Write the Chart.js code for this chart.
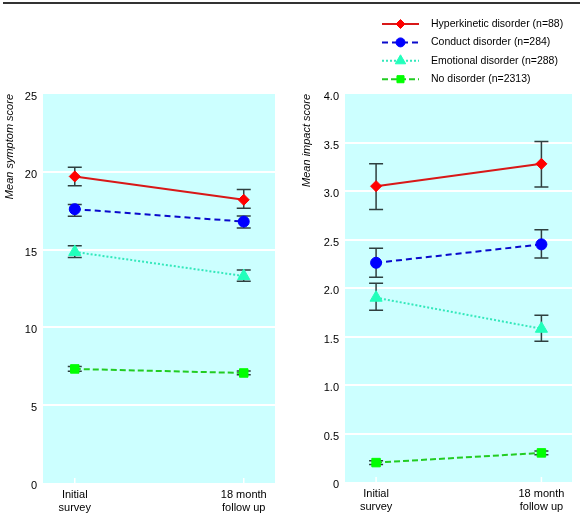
<!DOCTYPE html>
<html>
<head>
<meta charset="utf-8">
<script src="https://cdn.jsdelivr.net/npm/chart.js@4.4.0/dist/chart.umd.min.js"></script>
<style>
    body { margin: 0; background: #fff; width: 580px; height: 518px; overflow: hidden; position: relative; }
    #rule { position: absolute; left: 3px; top: 2px; width: 577px; height: 2px; background: #333; }
    .panel { position: absolute; top: 0; width: 290px; height: 518px; }
</style>
</head>
<body>
<div id="rule"></div>
<div class="panel" style="left:0"><canvas id="symptom_chart" width="290" height="518"></canvas></div>
<div class="panel" style="left:290px"><canvas id="impact_chart" width="290" height="518"></canvas></div>
<script>
const timeLabels = [['Initial', 'survey'], ['18 month', 'follow up']];
const groupNames = ['Hyperkinetic disorder (n=88)', 'Conduct disorder (n=284)', 'Emotional disorder (n=288)', 'No disorder (n=2313)'];

// mean symptom score: initial survey, 18 month follow up
const symptomHyperkinetic = [19.7, 18.2];
const symptomConduct = [17.6, 16.8];
const symptomEmotional = [14.85, 13.3];
const symptomNone = [7.33, 7.07];
// error bars [low, high] at each time point
const symptomHyperkineticCI = [[19.1, 20.3], [17.65, 18.87]];
const symptomConductCI = [[17.14, 17.9], [16.39, 17.16]];
const symptomEmotionalCI = [[14.5, 15.25], [12.96, 13.69]];
const symptomNoneCI = [[7.18, 7.48], [6.95, 7.19]];

// mean impact score
const impactHyperkinetic = [3.05, 3.28];
const impactConduct = [2.26, 2.45];
const impactEmotional = [1.90, 1.58];
const impactNone = [0.20, 0.30];
const impactHyperkineticCI = [[2.81, 3.28], [3.04, 3.51]];
const impactConductCI = [[2.11, 2.41], [2.31, 2.60]];
const impactEmotionalCI = [[1.77, 2.05], [1.45, 1.72]];
const impactNoneCI = [[0.18, 0.22], [0.28, 0.32]];

const symptomTickLabels = ['0', '5', '10', '15', '20', '25'];
const impactTickLabels = ['0', '0.5', '1.0', '1.5', '2.0', '2.5', '3.0', '3.5', '4.0'];

const FONT_FAMILY = "'Liberation Sans Narrow', 'Liberation Sans', Arial, sans-serif";
Chart.defaults.font.family = FONT_FAMILY;
Chart.defaults.font.size = 11;
Chart.defaults.color = '#000';

const SERIES_STYLE = [
    { line: '#d81818', marker: '#ff0000', pointStyle: 'rectRot', radius: 5.5, width: 2, dash: [] },
    { line: '#0a0acc', marker: '#0000ff', pointStyle: 'circle', radius: 5.5, width: 2, dash: [6, 4] },
    { line: '#33e8bb', marker: '#22ffbb', pointStyle: 'triangle', radius: 7, width: 2, dash: [2, 2] },
    { line: '#22cc22', marker: '#00ff00', pointStyle: 'rect', radius: 6, width: 2, dash: [6, 3] },
];

const toPoints = (values) => values.map((v, i) => ({ x: i, y: v }));

const buildDatasets = (seriesValues) => seriesValues.map((values, i) => ({
    label: groupNames[i],
    data: toPoints(values),
    borderColor: SERIES_STYLE[i].line,
    backgroundColor: SERIES_STYLE[i].marker,
    pointBackgroundColor: SERIES_STYLE[i].marker,
    pointBorderColor: SERIES_STYLE[i].marker,
    pointBorderWidth: 1,
    pointStyle: SERIES_STYLE[i].pointStyle,
    pointRadius: SERIES_STYLE[i].radius,
    borderWidth: SERIES_STYLE[i].width,
    borderDash: SERIES_STYLE[i].dash,
    fill: false,
}));

// cyan panel plus the little white ticks at each time point
const panelBackground = {
    id: 'panelBackground',
    beforeDatasetsDraw(chart, args, opts) {
        const { ctx, chartArea: a, scales: { x } } = chart;
        ctx.save();
        ctx.strokeStyle = '#ffffff';
        ctx.lineWidth = 1.5;
        x.ticks.forEach(t => {
            const px = x.getPixelForValue(t.value);
            ctx.beginPath();
            ctx.moveTo(px, a.bottom);
            ctx.lineTo(px, a.bottom - 5);
            ctx.stroke();
        });
        ctx.restore();
    },
    beforeDraw(chart, args, opts) {
        const { ctx, chartArea: a } = chart;
        ctx.save();
        ctx.fillStyle = opts.color;
        ctx.fillRect(a.left, a.top, a.right - a.left, a.bottom - a.top);
        ctx.restore();
    }
};

const errorBars = {
    id: 'errorBars',
    beforeDatasetsDraw(chart, args, opts) {
        const { ctx, scales: { x, y } } = chart;
        ctx.save();
        ctx.strokeStyle = opts.color;
        ctx.lineWidth = 1.5;
        opts.intervals.forEach(series => series.forEach(([lo, hi], i) => {
            const px = x.getPixelForValue(i);
            const top = y.getPixelForValue(hi);
            const bot = y.getPixelForValue(lo);
            ctx.beginPath();
            ctx.moveTo(px, top); ctx.lineTo(px, bot);
            ctx.moveTo(px - 7, top); ctx.lineTo(px + 7, top);
            ctx.moveTo(px - 7, bot); ctx.lineTo(px + 7, bot);
            ctx.stroke();
        }));
        ctx.restore();
    }
};

const sideLegend = {
    id: 'sideLegend',
    afterDraw(chart, args, opts) {
        if (!opts.show) return;
        const ctx = chart.ctx;
        chart.data.datasets.forEach((ds, i) => {
            const y = opts.top + i * opts.rowGap;
            const x0 = opts.left;
            ctx.save();
            ctx.strokeStyle = ds.borderColor;
            ctx.lineWidth = ds.borderWidth;
            ctx.setLineDash(ds.borderDash);
            ctx.beginPath();
            ctx.moveTo(x0, y);
            ctx.lineTo(x0 + opts.sample, y);
            ctx.stroke();
            ctx.setLineDash([]);
            ctx.fillStyle = ds.pointBackgroundColor;
            ctx.strokeStyle = ds.pointBorderColor;
            ctx.lineWidth = 1;
            Chart.helpers.drawPoint(ctx, { pointStyle: ds.pointStyle, radius: ds.pointRadius - 1, borderWidth: 1, rotation: 0 }, x0 + opts.sample / 2, y);
            ctx.fillStyle = '#000';
            ctx.font = `10.5px ${FONT_FAMILY}`;
            ctx.textBaseline = 'middle';
            ctx.fillText(ds.label, x0 + opts.sample + 12, y);
            ctx.restore();
        });
    }
};

const buildConfig = (cfg) => ({
    type: 'line',
    data: { datasets: buildDatasets(cfg.series) },
    plugins: [panelBackground, errorBars, sideLegend],
    options: {
        responsive: false,
        animation: false,
        events: [],
        layout: { padding: { left: 0, top: 94, right: cfg.padRight, bottom: 0 } },
        plugins: {
            legend: { display: false },
            tooltip: { enabled: false },
            panelBackground: { color: '#ccffff' },
            errorBars: { intervals: cfg.intervals, color: '#2f3f3f' },
            sideLegend: { show: cfg.legend, left: 92, top: 24, rowGap: 18.4, sample: 37 },
        },
        scales: {
            x: {
                type: 'linear',
                min: -0.188,
                max: 1.185,
                grid: { display: false, drawTicks: false },
                border: { display: false },
                afterBuildTicks: (scale) => { scale.ticks = [{ value: 0 }, { value: 1 }]; },
                afterFit: (scale) => { scale.height = cfg.xHeight; },
                ticks: { padding: 5, callback: (value) => timeLabels[value] },
            },
            y: {
                min: 0,
                max: cfg.max,
                afterFit: (scale) => { scale.width = cfg.yWidth; },
                grid: {
                    color: (ctx) => (ctx.tick && ctx.tick.value > 0 && ctx.tick.value < cfg.max) ? '#ffffff' : 'rgba(0,0,0,0)',
                    lineWidth: 2,
                    drawTicks: false,
                },
                border: { display: false },
                ticks: {
                    stepSize: cfg.step,
                    padding: 6,
                    labelOffset: 3,
                    callback: (value, index) => cfg.tickLabels[index],
                },
                title: {
                    display: true,
                    text: cfg.title,
                    align: 'end',
                    font: { style: 'italic', size: 11 },
                    padding: { top: cfg.titlePad, bottom: 0 },
                },
            },
        },
    },
});

new Chart(document.getElementById('symptom_chart'), buildConfig({
    series: [symptomHyperkinetic, symptomConduct, symptomEmotional, symptomNone],
    intervals: [symptomHyperkineticCI, symptomConductCI, symptomEmotionalCI, symptomNoneCI],
    max: 25, step: 5, tickLabels: symptomTickLabels,
    title: 'Mean symptom score', titlePad: 3,
    yWidth: 43, xHeight: 35, padRight: 15, legend: false,
}));

new Chart(document.getElementById('impact_chart'), buildConfig({
    series: [impactHyperkinetic, impactConduct, impactEmotional, impactNone],
    intervals: [impactHyperkineticCI, impactConductCI, impactEmotionalCI, impactNoneCI],
    max: 4, step: 0.5, tickLabels: impactTickLabels,
    title: 'Mean impact score', titlePad: 10,
    yWidth: 55, xHeight: 36, padRight: 3, legend: true,
}));
</script>
</body>
</html>
